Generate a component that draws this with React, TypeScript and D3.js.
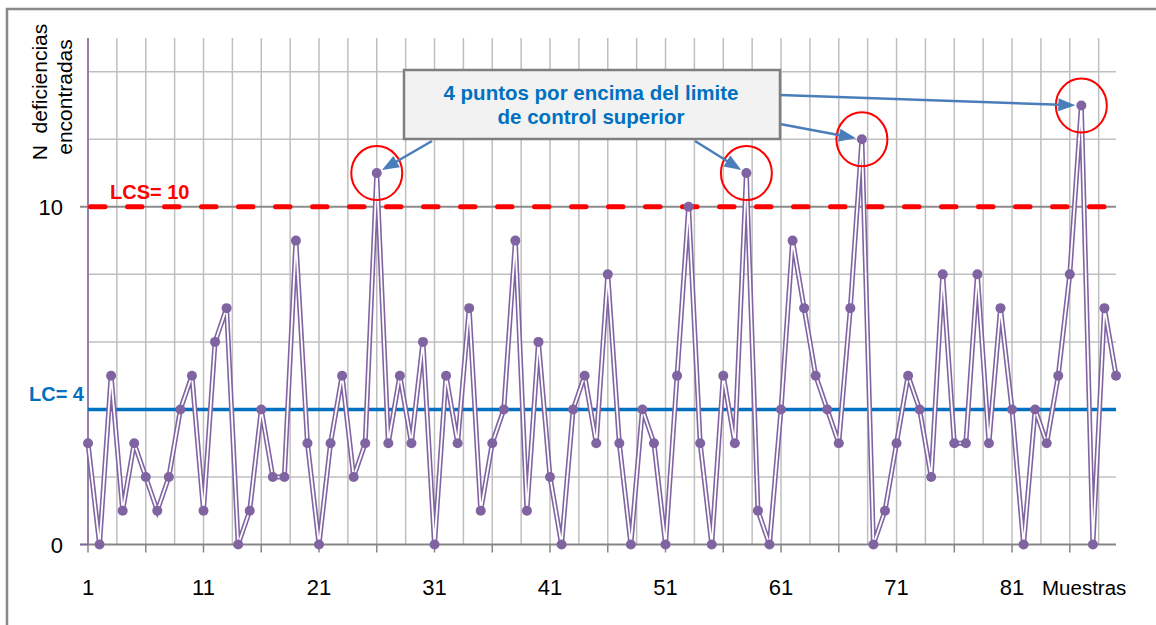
import { useEffect, useRef } from "react";
import * as d3 from "d3";

// N deficiencias por muestra
const deficiencias = [
  3, 0, 5, 1, 3, 2, 1, 2, 4, 5,
  1, 6, 7, 0, 1, 4, 2, 2, 9, 3,
  0, 3, 5, 2, 3, 11, 3, 5, 3, 6,
  0, 5, 3, 7, 1, 3, 4, 9, 1, 6,
  2, 0, 4, 5, 3, 8, 3, 0, 4, 3,
  0, 5, 10, 3, 0, 5, 3, 11, 1, 0,
  4, 9, 7, 5, 4, 3, 7, 12, 0, 1,
  3, 5, 4, 2, 8, 3, 3, 8, 3, 7,
  4, 0, 4, 3, 5, 8, 13, 0, 7, 5,
];
const muestras = deficiencias.map((_, i) => i + 1);

const LCS = 10;
const LC = 4;
const xTickLabels = [1, 11, 21, 31, 41, 51, 61, 71, 81];
const yTickLabels = [0, 10];
const outOfControl = [26, 58, 68, 87];
const annotationLines = ["4 puntos por encima del limite", "de control superior"];

const W = 1156;
const H = 625;
const FONT = "'Liberation Sans', Arial, sans-serif";
const PURPLE = "#8064A2";
const BLUE = "#0070C0";
const ARROW = "#4A7EBB";

export default function App() {
  const ref = useRef<SVGSVGElement>(null);

  useEffect(() => {
    const svg = d3.select(ref.current);
    svg.selectAll("*").remove();

    const x = d3.scaleLinear().domain([1, 90]).range([88, 1116]);
    const y = d3.scaleLinear().domain([0, 15]).range([544.5, 38]);

    // outer frame
    svg
      .append("rect")
      .attr("x", 7)
      .attr("y", 9)
      .attr("width", 1170)
      .attr("height", 640)
      .attr("fill", "white")
      .attr("stroke", "#898989")
      .attr("stroke-width", 2.5);

    const grid = svg.append("g");
    // vertical gridlines every 2.5 samples
    grid
      .selectAll("line.v")
      .data(d3.range(1, 89, 2.5))
      .join("line")
      .attr("x1", (d) => x(d))
      .attr("x2", (d) => x(d))
      .attr("y1", y(15))
      .attr("y2", y(0))
      .attr("stroke", "#BFBFBF")
      .attr("stroke-width", 1.5);
    // horizontal gridlines every 2
    grid
      .selectAll("line.h")
      .data(d3.range(2, 15, 2))
      .join("line")
      .attr("x1", (d) => (d === 10 ? 80 : x(1)))
      .attr("x2", x(90))
      .attr("y1", (d) => y(d))
      .attr("y2", (d) => y(d))
      .attr("stroke", (d) => (d === 10 ? "#8C8C8C" : "#BFBFBF"))
      .attr("stroke-width", (d) => (d === 10 ? 2 : 1.5));

    // x axis
    svg
      .append("line")
      .attr("x1", 80)
      .attr("x2", x(90))
      .attr("y1", y(0))
      .attr("y2", y(0))
      .attr("stroke", "#868686")
      .attr("stroke-width", 2);
    svg
      .selectAll("line.xt")
      .data(d3.range(1, 90, 5))
      .join("line")
      .attr("x1", (d) => x(d))
      .attr("x2", (d) => x(d))
      .attr("y1", y(0))
      .attr("y2", y(0) + 8)
      .attr("stroke", "#868686")
      .attr("stroke-width", 1.5);
    svg
      .selectAll("text.xl")
      .data(xTickLabels)
      .join("text")
      .attr("x", (d) => x(d))
      .attr("y", 595)
      .attr("text-anchor", "middle")
      .attr("font-family", FONT)
      .attr("font-size", 22)
      .attr("fill", "#000")
      .text((d) => d);
    svg
      .append("text")
      .attr("x", 1042)
      .attr("y", 595)
      .attr("font-family", FONT)
      .attr("font-size", 20.5)
      .attr("fill", "#000")
      .text("Muestras");

    // y axis
    svg
      .append("line")
      .attr("x1", x(1))
      .attr("x2", x(1))
      .attr("y1", y(15))
      .attr("y2", y(0))
      .attr("stroke", PURPLE)
      .attr("stroke-width", 1.5);
    svg
      .append("line")
      .attr("x1", 80)
      .attr("x2", x(1))
      .attr("y1", y(0))
      .attr("y2", y(0))
      .attr("stroke", PURPLE)
      .attr("stroke-width", 1.5);
    svg
      .selectAll("text.yl")
      .data(yTickLabels)
      .join("text")
      .attr("x", 63)
      .attr("y", (d) => y(d) + 8)
      .attr("text-anchor", "end")
      .attr("font-family", FONT)
      .attr("font-size", 22)
      .attr("fill", "#000")
      .text((d) => d);

    const title = svg
      .append("g")
      .attr("font-family", FONT)
      .attr("font-size", 21)
      .attr("fill", "#000")
      .attr("text-anchor", "middle");
    title
      .append("text")
      .attr("transform", "translate(47,92) rotate(-90)")
      .attr("xml:space", "preserve")
      .text("N  deficiencias");
    title
      .append("text")
      .attr("transform", "translate(72,97) rotate(-90)")
      .text("encontradas");

    // control limits
    svg
      .append("line")
      .attr("x1", x(1) + 2.5)
      .attr("x2", x(90))
      .attr("y1", y(LCS))
      .attr("y2", y(LCS))
      .attr("stroke", "#FF0000")
      .attr("stroke-width", 5)
      .attr("stroke-linecap", "round")
      .attr("stroke-dasharray", "14.5 22.5");
    svg
      .append("line")
      .attr("x1", x(1))
      .attr("x2", x(90))
      .attr("y1", y(LC))
      .attr("y2", y(LC))
      .attr("stroke", BLUE)
      .attr("stroke-width", 3.5);
    svg
      .append("text")
      .attr("x", 110)
      .attr("y", 199)
      .attr("font-family", FONT)
      .attr("font-size", 20)
      .attr("font-weight", "bold")
      .attr("fill", "#FF0000")
      .text(`LCS= ${LCS}`);
    svg
      .append("text")
      .attr("x", 84)
      .attr("y", 401)
      .attr("text-anchor", "end")
      .attr("font-family", FONT)
      .attr("font-size", 20)
      .attr("font-weight", "bold")
      .attr("fill", BLUE)
      .text(`LC= ${LC}`);

    // series: double line + markers
    const line = d3
      .line<number>()
      .x((_, i) => x(muestras[i]))
      .y((d) => y(d));
    svg
      .append("path")
      .datum(deficiencias)
      .attr("d", line)
      .attr("fill", "none")
      .attr("stroke", PURPLE)
      .attr("stroke-width", 5)
      .attr("stroke-linejoin", "miter");
    svg
      .append("path")
      .datum(deficiencias)
      .attr("d", line)
      .attr("fill", "none")
      .attr("stroke", "white")
      .attr("stroke-width", 1.8);
    svg
      .selectAll("circle.pt")
      .data(deficiencias)
      .join("circle")
      .attr("cx", (_, i) => x(muestras[i]))
      .attr("cy", (d) => y(d))
      .attr("r", 5)
      .attr("fill", PURPLE);

    // red circles around out-of-control points
    svg
      .selectAll("ellipse.oc")
      .data(outOfControl)
      .join("ellipse")
      .attr("cx", (d) => x(d))
      .attr("cy", (d) => y(deficiencias[d - 1]))
      .attr("rx", 25.5)
      .attr("ry", 27)
      .attr("fill", "none")
      .attr("stroke", "#FF0000")
      .attr("stroke-width", 2);

    // annotation box
    const box = { x: 404, y: 70, w: 376, h: 69 };
    const starts: [number, number][] = [
      [432, box.y + box.h + 2],
      [695, box.y + box.h + 2],
      [box.x + box.w, 124],
      [box.x + box.w, 95],
    ];
    const arrows = svg.append("g");
    outOfControl.forEach((s, i) => {
      const [sx, sy] = starts[i];
      const px = x(s);
      const py = y(deficiencias[s - 1]);
      const dx = px - sx;
      const dy = py - sy;
      const len = Math.hypot(dx, dy);
      const ux = dx / len;
      const uy = dy / len;
      const tx = px - ux * 6;
      const ty = py - uy * 6;
      const hl = 17;
      const hw = 6.5;
      const bx = tx - ux * hl;
      const by = ty - uy * hl;
      arrows
        .append("line")
        .attr("x1", sx)
        .attr("y1", sy)
        .attr("x2", bx + ux * 2)
        .attr("y2", by + uy * 2)
        .attr("stroke", ARROW)
        .attr("stroke-width", 2.5);
      arrows
        .append("path")
        .attr(
          "d",
          `M${tx},${ty}L${bx - uy * hw},${by + ux * hw}L${bx + uy * hw},${by - ux * hw}Z`
        )
        .attr("fill", ARROW);
    });

    svg
      .append("rect")
      .attr("x", box.x)
      .attr("y", box.y)
      .attr("width", box.w)
      .attr("height", box.h)
      .attr("fill", "#F2F2F2")
      .attr("stroke", "#7F7F7F")
      .attr("stroke-width", 2.5);
    svg
      .selectAll("text.ann")
      .data(annotationLines)
      .join("text")
      .attr("x", box.x + box.w / 2 - 1)
      .attr("y", (_, i) => 100 + i * 24)
      .attr("text-anchor", "middle")
      .attr("font-family", FONT)
      .attr("font-size", 20.5)
      .attr("font-weight", "bold")
      .attr("fill", BLUE)
      .text((d) => d);
  }, []);

  return (
    <svg
      ref={ref}
      width={W}
      height={H}
      style={{ position: "absolute", left: 0, top: 0, background: "white" }}
    />
  );
}
